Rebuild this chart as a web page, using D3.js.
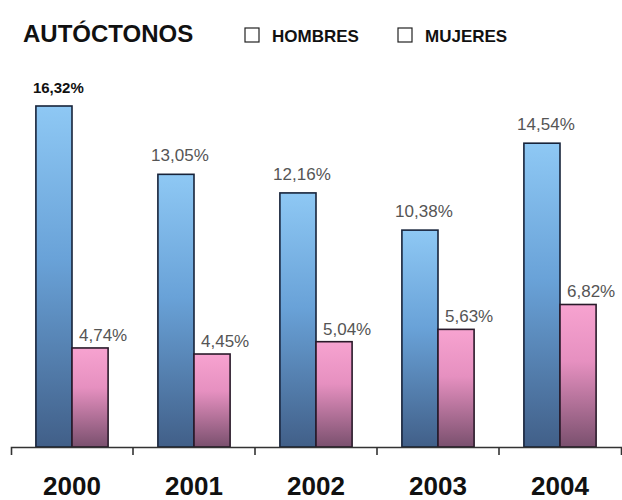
<!DOCTYPE html>
<html lang="es">
<head>
    <meta charset="UTF-8">
    <title>Autóctonos</title>
    <style>
        body { margin: 0; background: #fff; }
        svg { display: block; font-family: "Liberation Sans", Arial, sans-serif; }
    </style>
    <script src="https://cdnjs.cloudflare.com/ajax/libs/d3/7.8.5/d3.min.js"></script>
</head>
<body>
    <div id="chart"></div>
    <script>
        // datos
        const years = ['2000', '2001', '2002', '2003', '2004'];
        const hombres = [16.32, 13.05, 12.16, 10.38, 14.54];
        const mujeres = [4.74, 4.45, 5.04, 5.63, 6.82];
        const hombresLabels = ['16,32%', '13,05%', '12,16%', '10,38%', '14,54%'];
        const mujeresLabels = ['4,74%', '4,45%', '5,04%', '5,63%', '6,82%'];
        const series = ['HOMBRES', 'MUJERES'];

        const width = 622;
        const height = 500;
        const baseY = 447;

        const svg = d3.select('#chart')
            .append('svg')
            .attr('width', width)
            .attr('height', height);

        const defs = svg.append('defs');
        const gradBlue = defs.append('linearGradient')
            .attr('id', 'gBlue').attr('x1', 0).attr('y1', 0).attr('x2', 0).attr('y2', 1);
        gradBlue.append('stop').attr('offset', '0%').attr('stop-color', '#8ec8f4');
        gradBlue.append('stop').attr('offset', '45%').attr('stop-color', '#69a2d8');
        gradBlue.append('stop').attr('offset', '100%').attr('stop-color', '#415f88');
        const gradPink = defs.append('linearGradient')
            .attr('id', 'gPink').attr('x1', 0).attr('y1', 0).attr('x2', 0).attr('y2', 1);
        gradPink.append('stop').attr('offset', '0%').attr('stop-color', '#f7a3d0');
        gradPink.append('stop').attr('offset', '40%').attr('stop-color', '#e690c0');
        gradPink.append('stop').attr('offset', '100%').attr('stop-color', '#7a506e');

        // escalas
        const x = d3.scaleBand()
            .domain(years)
            .range([11, 621])
            .padding(0);

        const x1 = d3.scaleBand()
            .domain(series)
            .range([0, x.bandwidth()])
            .paddingInner(0)
            .paddingOuter(0.69);

        const y = d3.scaleLinear()
            .domain([0, 16.32])
            .range([baseY, 106]);

        // barras
        const groups = svg.selectAll('g.year')
            .data(years)
            .enter()
            .append('g')
            .attr('class', 'year')
            .attr('transform', d => `translate(${x(d)},0)`);

        groups.append('rect')
            .attr('x', x1('HOMBRES'))
            .attr('y', (d, i) => y(hombres[i]))
            .attr('width', x1.bandwidth())
            .attr('height', (d, i) => baseY - y(hombres[i]))
            .attr('fill', 'url(#gBlue)')
            .attr('stroke', '#17233a')
            .attr('stroke-width', 1.6);

        groups.append('rect')
            .attr('x', x1('MUJERES'))
            .attr('y', (d, i) => y(mujeres[i]))
            .attr('width', x1.bandwidth())
            .attr('height', (d, i) => baseY - y(mujeres[i]))
            .attr('fill', 'url(#gPink)')
            .attr('stroke', '#2a1a2a')
            .attr('stroke-width', 1.6);

        // etiquetas de valores
        groups.append('text')
            .attr('x', (d, i) => i === 0 ? x1('HOMBRES') - 3 : x1('HOMBRES') + x1.bandwidth() / 2 + 4)
            .attr('y', (d, i) => i === 0 ? 93 : y(hombres[i]) - 13)
            .attr('text-anchor', (d, i) => i === 0 ? 'start' : 'middle')
            .attr('font-size', (d, i) => i === 0 ? 15 : 17)
            .attr('font-weight', (d, i) => i === 0 ? 'bold' : 'normal')
            .attr('fill', (d, i) => i === 0 ? '#111' : '#555')
            .text((d, i) => hombresLabels[i]);

        groups.append('text')
            .attr('x', x1('MUJERES') + 7)
            .attr('y', (d, i) => y(mujeres[i]) - 7)
            .attr('font-size', 17)
            .attr('fill', '#555')
            .text((d, i) => mujeresLabels[i]);

        // eje
        const axis = svg.append('g')
            .attr('transform', `translate(0,${baseY})`)
            .call(d3.axisBottom(x).tickSize(0).tickSizeOuter(8).tickPadding(30));
        axis.select('.domain')
            .attr('stroke', '#333')
            .attr('stroke-width', 1.6);
        axis.selectAll('text')
            .attr('font-size', 26)
            .attr('font-weight', 'bold')
            .attr('fill', '#111')
            .attr('font-family', '"Liberation Sans", Arial, sans-serif');

        axis.selectAll('line.sep')
            .data(years.slice(1))
            .enter()
            .append('line')
            .attr('class', 'sep')
            .attr('x1', d => x(d)).attr('x2', d => x(d))
            .attr('y1', 0).attr('y2', 8)
            .attr('stroke', '#333')
            .attr('stroke-width', 1.6);

        // título y leyenda
        svg.append('text')
            .attr('x', 23)
            .attr('y', 42)
            .attr('font-size', 24)
            .attr('font-weight', 'bold')
            .attr('fill', '#111')
            .text('AUTÓCTONOS');

        const legendX = [245, 398];
        const legend = svg.selectAll('g.legend')
            .data(series)
            .enter()
            .append('g')
            .attr('class', 'legend')
            .attr('transform', (d, i) => `translate(${legendX[i]},28)`);
        legend.append('rect')
            .attr('width', 14)
            .attr('height', 14)
            .attr('fill', '#fff')
            .attr('stroke', '#222')
            .attr('stroke-width', 1.2);
        legend.append('text')
            .attr('x', 27)
            .attr('y', 14)
            .attr('font-size', 17)
            .attr('font-weight', 'bold')
            .attr('fill', '#111')
            .text(d => d);
    </script>
</body>
</html>
